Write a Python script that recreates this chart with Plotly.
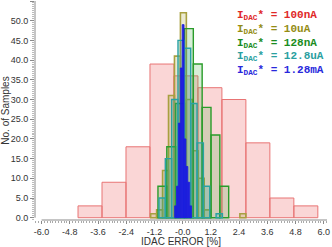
import plotly.graph_objects as go

# histogram data: left edge of first bin, bin width, counts per bin
red_start, red_width = -4.45, 1.02
red_counts = [3, 9, 18, 39, 36, 33, 30, 19, 5, 3]

olive_start, olive_width = -1.36, 0.253
olive_counts = [1, 2, 12, 31, 41, 52, 30, 17, 10, 2, 0, 0, 0, 0, 0, 1]

green_start, green_width = -1.05, 0.376
green_counts = [8, 18, 29, 48, 39, 28, 21, 8]

teal_start, teal_width = -1.008, 0.27
teal_counts = [5, 15, 30, 45, 43, 29, 19, 8, 0, 1]

blue_start, blue_width = -0.34, 0.08
blue_counts = [3, 8, 24, 38, 49, 20, 13, 9, 3]

legend_labels = ["100nA", "10uA", "128nA", "12.8uA", "1.28mA"]
x_ticks = [-6.0, -4.8, -3.6, -2.4, -1.2, 0.0, 1.2, 2.4, 3.6, 4.8, 6.0]
x_ticklabels = ["-6.0", "-4.8", "-3.6", "-2.4", "-1.2", "-0.0", "1.2", "2.4", "3.6", "4.8", "6.0"]
y_ticks = [0, 5, 10, 15, 20, 25, 30, 35, 40, 45, 50, 55]
y_ticklabels = ["%.1f" % v for v in y_ticks]

series = [
    (red_start, red_width, red_counts, "rgba(240,120,120,0.30)", "#e87474", 1.0, "#e02828"),
    (olive_start, olive_width, olive_counts, "rgba(165,160,50,0.22)", "#a8a040", 1.6, "#948c14"),
    (green_start, green_width, green_counts, "rgba(60,170,60,0.20)", "#2a9c2a", 1.4, "#1a8c22"),
    (teal_start, teal_width, teal_counts, "rgba(40,165,165,0.25)", "#2aa2a2", 1.4, "#2aa0a0"),
    (blue_start, blue_width, blue_counts, "rgba(25,25,225,0.92)", "#1c1ce0", 0.8, "#2828dc"),
]

fig = go.Figure()
for start, w, counts, fill, edge, lw, _ in series:
    xs = [start + (i + 0.5) * w for i, c in enumerate(counts) if c > 0]
    ys = [c for c in counts if c > 0]
    fig.add_trace(go.Bar(x=xs, y=ys, width=w, marker=dict(color=fill, line=dict(color=edge, width=lw)),
                         showlegend=False, hoverinfo="skip"))

# legend drawn as coloured text
for i, (label, s) in enumerate(zip(legend_labels, series)):
    fig.add_annotation(x=2.24, y=51.2 - i * 3.43, xref="x", yref="y", xanchor="left", yanchor="middle",
                       text="<b>I<sub>DAC</sub>* = %s</b>" % label, showarrow=False,
                       font=dict(family="Liberation Mono", size=11, color=s[6]))

axis_col = "#8a8a8a"
fig.add_shape(type="line", xref="x", yref="paper", x0=-6, x1=6.14, y0=0, y1=0, line=dict(color=axis_col, width=1))
fig.add_shape(type="line", xref="paper", yref="y", x0=0, x1=0, y0=0, y1=55, line=dict(color=axis_col, width=1))

fig.update_layout(
    width=332, height=247, barmode="overlay",
    margin=dict(l=35, r=5, t=1, b=27),
    plot_bgcolor="white", paper_bgcolor="white",
    font=dict(family="Liberation Sans", size=9, color="#333"),
    xaxis=dict(range=[-6.28, 6.14], tickvals=x_ticks, ticktext=x_ticklabels, ticks="outside", ticklen=3,
               tickcolor=axis_col, showgrid=False, zeroline=False, showline=False, automargin=False,
               minor=dict(dtick=0.12, tick0=-6, ticks="outside", ticklen=2, tickcolor="#aaa"),
               title=dict(text="IDAC ERROR [%]", font=dict(size=10), standoff=0)),
    yaxis=dict(range=[-0.58, 55], tickvals=y_ticks, ticktext=y_ticklabels, ticks="outside", ticklen=4,
               tickcolor=axis_col, showgrid=False, zeroline=False, showline=False, automargin=False,
               minor=dict(dtick=0.5, tick0=0, ticks="outside", ticklen=2, tickcolor="#bbb"),
               title=dict(text="No. of Samples", font=dict(size=10), standoff=2)),
)

# drop the default page margin so the figure sits at the window's corner
fig.write_html("out.html", config={"displayModeBar": False},
               post_script="document.body.style.margin='0px';")
